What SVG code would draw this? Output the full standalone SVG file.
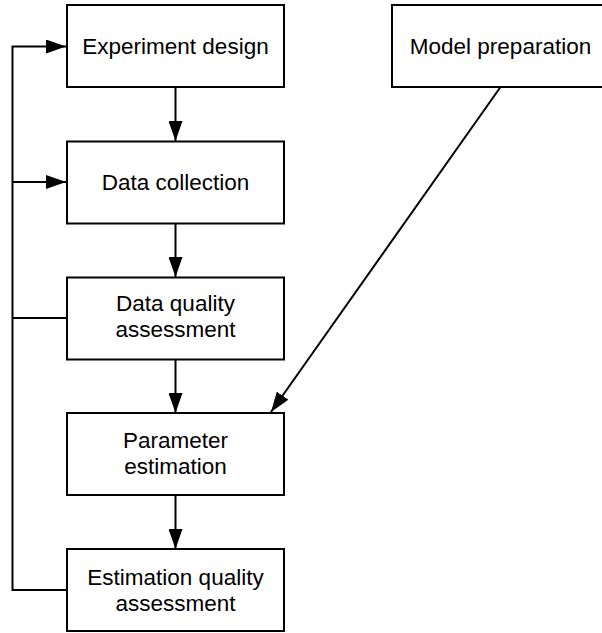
<svg xmlns="http://www.w3.org/2000/svg" width="602" height="633" viewBox="0 0 602 633">
<style>
.box{fill:#fff;stroke:#000;stroke-width:2}
.t{font-family:"Liberation Sans",Arial,sans-serif;font-size:22.5px;fill:#000;text-anchor:middle}
.ln{fill:none;stroke:#000;stroke-width:2}
</style>
<defs>
<marker id="ah" markerWidth="20" markerHeight="14" refX="20" refY="7" orient="auto" markerUnits="userSpaceOnUse">
<path d="M0,0 L20,7 L0,14 Z" fill="#000"/>
</marker>
</defs>
<rect width="602" height="633" fill="#fff"/>
<g id="connectors">
<line class="ln" x1="175.5" y1="87" x2="175.5" y2="141" marker-end="url(#ah)"/>
<line class="ln" x1="175.5" y1="223" x2="175.5" y2="277" marker-end="url(#ah)"/>
<line class="ln" x1="175.5" y1="359" x2="175.5" y2="413" marker-end="url(#ah)"/>
<line class="ln" x1="175.5" y1="495" x2="175.5" y2="549" marker-end="url(#ah)"/>
<line class="ln" x1="500.5" y1="87" x2="271" y2="412" marker-end="url(#ah)"/>
<polyline class="ln" points="67,590 12.5,590 12.5,46.5 66,46.5" marker-end="url(#ah)"/>
<line class="ln" x1="12.5" y1="182" x2="66" y2="182" marker-end="url(#ah)"/>
<line class="ln" x1="12.5" y1="318" x2="67" y2="318"/>
</g>
<g id="experiment-design">
<rect class="box" x="67" y="5" width="217" height="82"/>
<text class="t" x="175.5" y="54">Experiment design</text>
</g>
<g id="data-collection">
<rect class="box" x="67" y="141.5" width="217" height="82"/>
<text class="t" x="175.5" y="190">Data collection</text>
</g>
<g id="data-quality-assessment">
<rect class="box" x="67" y="277.5" width="217" height="82"/>
<text class="t" x="175.5" y="311">Data quality</text>
<text class="t" x="175.5" y="337">assessment</text>
</g>
<g id="parameter-estimation">
<rect class="box" x="67" y="413" width="217" height="82"/>
<text class="t" x="175.5" y="448">Parameter</text>
<text class="t" x="175.5" y="474">estimation</text>
</g>
<g id="estimation-quality-assessment">
<rect class="box" x="67" y="549" width="217" height="82"/>
<text class="t" x="175.5" y="585">Estimation quality</text>
<text class="t" x="175.5" y="611">assessment</text>
</g>
<g id="model-preparation">
<rect class="box" x="392" y="5" width="217" height="82"/>
<text class="t" x="500.5" y="54">Model preparation</text>
</g>
</svg>
